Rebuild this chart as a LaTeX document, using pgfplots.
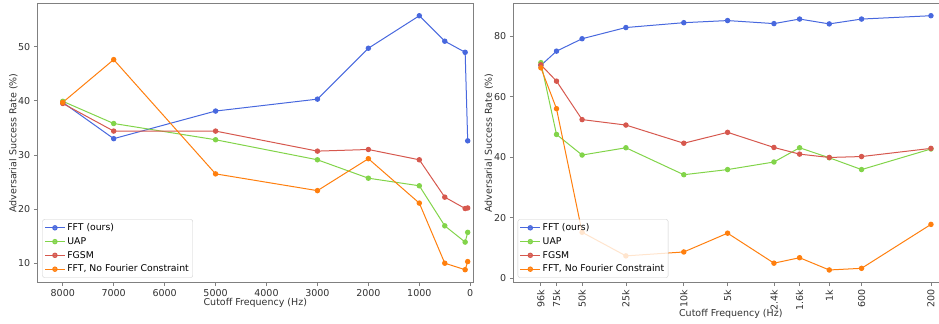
\documentclass[border=0pt]{standalone}
\usepackage{fontspec}
\setmainfont{DejaVu Sans}
\usepackage{pgfplots}
\pgfplotsset{compat=1.18}
\definecolor{cblue}{RGB}{72,104,222}
\definecolor{cgreen}{RGB}{130,212,74}
\definecolor{cred}{RGB}{214,88,78}
\definecolor{corange}{RGB}{255,127,14}
\definecolor{framegray}{RGB}{128,128,128}
\definecolor{txt}{RGB}{50,50,50}
\pgfplotsset{
  myaxis/.style={
    scale only axis,
    font=\fontsize{9.5bp}{11.4bp}\selectfont,
    /pgf/number format/assume math mode=true,
    axis line style={framegray, line width=0.8bp},
    tick style={framegray, line width=0.8bp},
    major tick length=3.5bp,
    tick align=outside,
    xtick pos=bottom, ytick pos=left,
    ticklabel style={text=txt},
    label style={text=txt},
    every axis plot/.append style={line width=1bp, mark=*, mark size=2.2bp},
    legend cell align=left,
    legend style={font=\fontsize{9.3bp}{11bp}\selectfont, fill=white, fill opacity=0.8, text opacity=1, draw opacity=1, draw=black!20, rounded corners=2bp, row sep=1.4bp, inner sep=2bp},
    legend image code/.code={\draw[mark repeat=2,mark phase=2] plot coordinates {(0cm,0cm) (0.35cm,0cm) (0.7cm,0cm)};},
  }
}
\begin{document}
\begin{tikzpicture}
\useasboundingbox (0,0) rectangle (939bp,324bp);
% Left axis
\begin{axis}[myaxis,
  at={(37.3bp,41.3bp)}, anchor=south west,
  width=436bp, height=279.4bp,
  x dir=reverse,
  xmin=-60, xmax=8500,
  ymin=6.4, ymax=58.0,
  xtick={0,1000,2000,3000,4000,5000,6000,7000,8000},
  xticklabels={0,1000,2000,3000,4000,5000,6000,7000,8000},
  ytick={10,20,30,40,50},
  xlabel={Cutoff Frequency (Hz)},
  ylabel={Adversarial Success Rate (\%)},
  xlabel style={at={(axis description cs:0.5,-0.074)}, anchor=center},
  ylabel style={at={(axis description cs:-0.055,0.5)}, anchor=center},
  legend style={at={(axis description cs:0.0115,0.018)}, anchor=south west},
]
\addplot[cblue] coordinates {(8000,39.7) (7000,33.0) (5000,38.1) (3000,40.3) (2000,49.7) (1000,55.7) (500,51.0) (100,48.95) (50,32.6)};
\addlegendentry{FFT (ours)}
\addplot[cgreen] coordinates {(8000,39.9) (7000,35.8) (5000,32.8) (3000,29.1) (2000,25.7) (1000,24.3) (500,16.9) (100,13.9) (50,15.7)};
\addlegendentry{UAP}
\addplot[cred] coordinates {(8000,39.5) (7000,34.4) (5000,34.4) (3000,30.7) (2000,31.0) (1000,29.1) (500,22.2) (100,20.1) (50,20.2)};
\addlegendentry{FGSM}
\addplot[corange] coordinates {(8000,39.7) (7000,47.6) (5000,26.5) (3000,23.4) (2000,29.3) (1000,21.1) (500,10.0) (100,8.8) (50,10.3)};
\addlegendentry{FFT, No Fourier Constraint}
\end{axis}
% Right axis
\begin{axis}[myaxis,
  at={(513.3bp,41.3bp)}, anchor=south west,
  width=435bp, height=279.4bp,
  xmode=log, x dir=reverse,
  xmin=152, xmax=148600,
  ymin=-1.45, ymax=90.8,
  xtick={96000,75000,50000,25000,10000,5000,2400,1600,1000,600,200},
  xticklabels={96k,75k,50k,25k,10k,5k,2.4k,1.6k,1k,600,200},
  minor xtick={},
  xticklabel style={rotate=90, anchor=east},
  ytick={0,20,40,60,80},
  xlabel={Cutoff Frequency (Hz)},
  ylabel={Adversarial Success Rate (\%)},
  xlabel style={at={(axis description cs:0.5,-0.113)}, anchor=center},
  ylabel style={at={(axis description cs:-0.056,0.5)}, anchor=center},
  legend style={at={(axis description cs:0.0101,0.018)}, anchor=south west},
]
\addplot[cblue] coordinates {(96000,70.3) (75000,75.0) (50000,79.1) (25000,82.8) (10000,84.4) (5000,85.1) (2400,84.1) (1600,85.6) (1000,84.0) (600,85.6) (200,86.7)};
\addlegendentry{FFT (ours)}
\addplot[cgreen] coordinates {(96000,71.2) (75000,47.5) (50000,40.7) (25000,43.1) (10000,34.2) (5000,35.9) (2400,38.4) (1600,43.1) (1000,39.8) (600,35.9) (200,42.7)};
\addlegendentry{UAP}
\addplot[cred] coordinates {(96000,70.5) (75000,65.1) (50000,52.4) (25000,50.6) (10000,44.6) (5000,48.2) (2400,43.2) (1600,41.0) (1000,39.9) (600,40.2) (200,42.9)};
\addlegendentry{FGSM}
\addplot[corange] coordinates {(96000,69.5) (75000,56.0) (50000,15.2) (25000,7.4) (10000,8.7) (5000,14.9) (2400,5.0) (1600,6.8) (1000,2.75) (600,3.3) (200,17.8)};
\addlegendentry{FFT, No Fourier Constraint}
\end{axis}
\end{tikzpicture}
\end{document}
